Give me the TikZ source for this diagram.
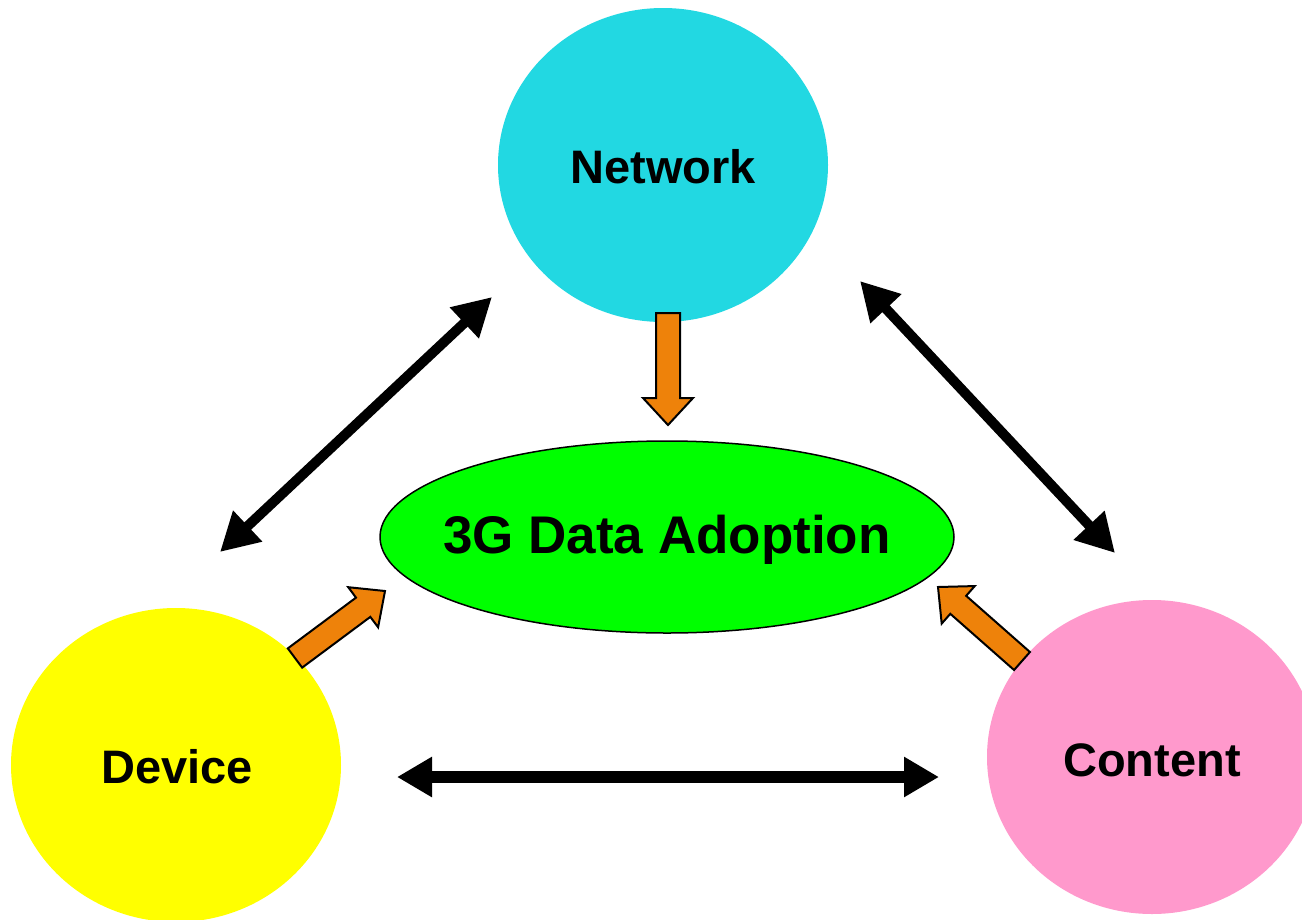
\documentclass[tikz,border=0pt]{standalone}
\usepackage{fontspec}
\setmainfont{Liberation Sans}
\usetikzlibrary{shapes.geometric,arrows.meta,calc}
\definecolor{netc}{HTML}{22D8E2}
\definecolor{devc}{HTML}{FFFF00}
\definecolor{conc}{HTML}{FF99CC}
\definecolor{adoc}{HTML}{00FF00}
\definecolor{orac}{HTML}{EE820A}
\tikzset{
  blob/.style={ellipse, inner sep=0pt, minimum width=330pt, minimum height=314pt},
  lbl/.style={inner sep=0pt, font=\fontsize{47}{50}\selectfont\bfseries},
  dbl/.style={line width=10pt, {Triangle[length=38pt,width=40pt]}-{Triangle[length=38pt,width=40pt]}},
  dblh/.style={line width=12pt, {Triangle[length=35pt,width=38pt]}-{Triangle[length=35pt,width=38pt]}},
  blockarrow/.style={draw=black, line width=2pt, fill=orac, line join=miter}
}
\newcommand\blockarr[2]{%
  \coordinate (ba-h) at ($(#1)!85pt!(#2)$);
  \draw[blockarrow] ($(#1)!12pt!90:(#2)$) -- ($(ba-h)!12pt!90:(#2)$) -- ($(ba-h)!25pt!90:(#2)$) -- (#2)
    -- ($(ba-h)!25pt!-90:(#2)$) -- ($(ba-h)!12pt!-90:(#2)$) -- ($(#1)!12pt!-90:(#2)$) -- cycle;
}
\begin{document}
\begin{tikzpicture}[x=1pt,y=-1pt]
\useasboundingbox (0,0) rectangle (1302,919);
\clip (0,0) rectangle (1302,919);
\fill[white] (0,0) rectangle (1302,919);
% main circles
\node[blob, fill=netc] (net) at (663,165) {};
\node[blob, fill=devc] (dev) at (176,765) {};
\node[blob, fill=conc] (con) at (1152,757) {};
\node[ellipse, inner sep=0pt, minimum width=574pt, minimum height=192pt, fill=adoc, draw=black, line width=1.5pt] (ado) at (667,537) {};
\node[lbl] (netl) at (663,167) {Network};
\node[lbl] (devl) at (177,767) {Device};
\node[lbl] (conl) at (1152,760) {Content};
\node[inner sep=0pt, font=\fontsize{53}{56}\selectfont\bfseries] (adol) at (667,540) {3G Data Adoption};
% connector end points
\coordinate (a1s) at (220,552);
\coordinate (a1e) at (492,297);
\coordinate (a2s) at (860,281);
\coordinate (a2e) at (1115,553);
\coordinate (a3s) at (397,777);
\coordinate (a3e) at (939,777);
\draw[dbl] (a1s) -- (a1e);
\draw[dbl] (a2s) -- (a2e);
\draw[dblh] (a3s) -- (a3e);
% orange block arrows
\coordinate (o1s) at (668,313);
\coordinate (o1e) at (668,425);
\coordinate (o2s) at (295,658);
\coordinate (o2e) at (385,591);
\coordinate (o3s) at (1022,661);
\coordinate (o3e) at (938,587);
\blockarr{o1s}{o1e}
\blockarr{o2s}{o2e}
\blockarr{o3s}{o3e}
\end{tikzpicture}
\end{document}
